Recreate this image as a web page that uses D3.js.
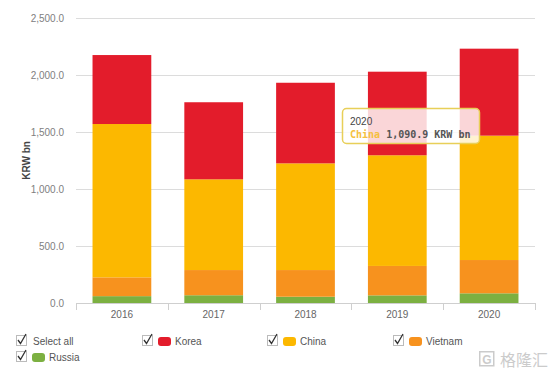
<!DOCTYPE html>
<html><head><meta charset="utf-8">
<script src="https://cdn.jsdelivr.net/npm/d3@7/dist/d3.min.js"></script>
<style>
html,body{margin:0;padding:0;background:#fff;}
svg{display:block;font-family:"Liberation Sans",Arial,sans-serif;}
</style></head>
<body>
<svg id="chart" width="554" height="375"></svg>
<script>
const years = ["2016","2017","2018","2019","2020"];
const seriesNames = ["Russia","Vietnam","China","Korea"];
const russia  = [60, 68, 55, 67, 85];
const vietnam = [165, 221, 234, 258, 292];
const china   = [1345, 796, 936, 971, 1090.9];
const korea   = [605, 676, 707, 733, 763];
const yTicks = [0, 500, 1000, 1500, 2000, 2500];
const colors = {Korea:"#e31c2b", China:"#fcb800", Vietnam:"#f7921e", Russia:"#7cb041"};
const legendItems = ["Select all","Korea","China","Vietnam","Russia"];

const svg = d3.select("#chart");
const L = 76, R = 535, T = 18, B = 303;
const rows = years.map((y,i)=>({year:y, Russia:russia[i], Vietnam:vietnam[i], China:china[i], Korea:korea[i]}));
const stack = d3.stack().keys(seriesNames)(rows);

const x = d3.scaleBand().domain(years).range([L,R]).paddingInner(0.36).paddingOuter(0.18);
const y = d3.scaleLinear().domain([0,2500]).range([B,T]);

// gridlines
svg.append("g").selectAll("line").data(yTicks.filter(d=>d>0)).join("line")
  .attr("x1",L).attr("x2",R).attr("y1",d=>y(d)+0.5).attr("y2",d=>y(d)+0.5)
  .attr("stroke","#dcdcdc").attr("stroke-width",1);

// y axis labels
const fmt = d3.format(",.1f");
svg.append("g").selectAll("text").data(yTicks).join("text")
  .attr("x",64).attr("y",d=>y(d)+3.5).attr("text-anchor","end")
  .attr("font-size",10).attr("fill","#808080").text(d=>fmt(d));

// y title
svg.append("text").attr("transform",`translate(30,${(T+B)/2}) rotate(-90)`)
  .attr("text-anchor","middle").attr("font-size",10).attr("font-weight","bold")
  .attr("fill","#444").text("KRW bn");

// bars
svg.append("g").selectAll("g").data(stack).join("g")
  .attr("fill",d=>colors[d.key])
  .selectAll("rect").data(d=>d).join("rect")
  .attr("x",d=>x(d.data.year)).attr("width",x.bandwidth())
  .attr("y",d=>y(d[1])).attr("height",d=>y(d[0])-y(d[1]));

// x axis
const bounds = years.map(yr=>x(yr)-x.step()*0.18).concat([R]);
svg.append("line").attr("x1",L).attr("x2",R).attr("y1",B+0.5).attr("y2",B+0.5)
  .attr("stroke","#cfcfcf");
svg.append("g").selectAll("line").data(bounds).join("line")
  .attr("x1",d=>Math.round(d)+0.5).attr("x2",d=>Math.round(d)+0.5)
  .attr("y1",B).attr("y2",B+7).attr("stroke","#cfcfcf");
svg.append("g").selectAll("text").data(years).join("text")
  .attr("x",d=>x(d)+x.bandwidth()/2).attr("y",B+15).attr("text-anchor","middle")
  .attr("font-size",10).attr("fill","#666").text(d=>d);

// tooltip
const tip = svg.append("g").attr("transform","translate(342,108)");
tip.append("rect").attr("x",0.5).attr("y",0.5).attr("width",137).attr("height",35).attr("rx",4)
  .attr("fill","rgba(255,255,255,0.82)").attr("stroke","#e8cf58").attr("stroke-width",1.5);
tip.append("text").attr("x",8).attr("y",17).attr("font-size",10).attr("fill","#444").text(years[4]);
const t2 = tip.append("text").attr("x",8).attr("y",30).attr("font-size",10)
  .attr("font-family","'DejaVu Sans Mono',monospace").attr("font-weight","bold");
t2.append("tspan").attr("fill","#f5c040").text("China");
t2.append("tspan").attr("fill","#555").text(" "+d3.format(",.1f")(china[4])+" KRW bn");

// legend
const legendPos = [[16,341],[142,341],[267,341],[393,341],[16,357]];
legendItems.forEach((name,i)=>{
  const [lx,ly] = legendPos[i];
  const g = svg.append("g").attr("transform",`translate(${lx},${ly})`);
  g.append("rect").attr("x",0.5).attr("y",-5.5).attr("width",10).attr("height",10)
    .attr("fill","#fff").attr("stroke","#bbb");
  g.append("path").attr("d","M2,-1 L4.5,2.5 L10,-7").attr("fill","none").attr("stroke","#333").attr("stroke-width",1.3);
  let tx = 17;
  if(name !== "Select all"){
    g.append("rect").attr("x",16).attr("y",-4).attr("width",13).attr("height",9).attr("rx",3)
      .attr("fill",colors[name]);
    tx = 33;
  }
  g.append("text").attr("x",tx).attr("y",4).attr("font-size",10).attr("fill","#555").text(name);
});

// watermark
const wm = svg.append("g").attr("transform","translate(479,351)").attr("opacity",0.5);
wm.append("rect").attr("x",0.75).attr("y",0.75).attr("width",14).attr("height",14).attr("fill","none").attr("stroke","#999").attr("stroke-width",1.5);
wm.append("text").attr("x",8).attr("y",12.5).attr("text-anchor","middle").attr("font-size",12).attr("fill","#999").attr("font-weight","bold").text("G");
wm.append("text").attr("x",21).attr("y",14.5).attr("font-size",16).attr("fill","#999")
  .attr("font-family","'Noto Sans CJK SC',sans-serif").text("格隆汇");
</script>
</body></html>
